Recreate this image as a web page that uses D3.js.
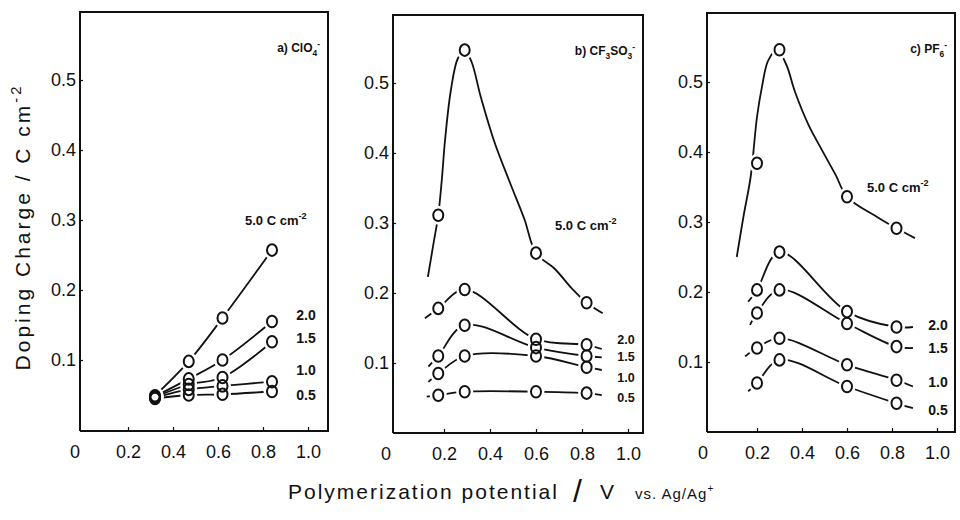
<!DOCTYPE html>
<html>
<head>
<meta charset="utf-8">
<script src="https://cdn.jsdelivr.net/npm/d3@7"></script>
<style>
  body { margin: 0; background: #fff; }
  svg { display: block; }
  text { font-family: "Liberation Sans", Arial, sans-serif; fill: #111; }
</style>
</head>
<body>
<svg id="chart" width="960" height="520"></svg>
<script>
// Doping charge (C cm^-2) against polymerization potential (V vs. Ag/Ag+)
// for films grown with five polymerization charges in three electrolytes.

const chargeLabels = ["5.0", "2.0", "1.5", "1.0", "0.5"];
const yTicks = [0.1, 0.2, 0.3, 0.4, 0.5];
const xTicks = [0.2, 0.4, 0.6, 0.8, 1.0];

// a) ClO4-
const potentialA = [0.32, 0.47, 0.62, 0.84];
const a50 = [0.049, 0.098, 0.160, 0.257];
const a20 = [0.048, 0.073, 0.100, 0.155];
const a15 = [0.047, 0.065, 0.075, 0.126];
const a10 = [0.046, 0.058, 0.063, 0.069];
const a05 = [0.045, 0.050, 0.051, 0.055];

// b) CF3SO3-
const potentialB = [0.175, 0.29, 0.60, 0.82];
const b50 = [0.311, 0.547, 0.257, 0.186];
const b20 = [0.178, 0.205, 0.134, 0.126];
const b15 = [0.110, 0.154, 0.122, 0.110];
const b10 = [0.085, 0.110, 0.110, 0.094];
const b05 = [0.054, 0.059, 0.059, 0.057];
// hand-drawn guide curve of the 5.0 C cm-2 film, [potential, charge]
const b50Trace = [[0.13, 0.223], [0.155, 0.272], [0.175, 0.311], [0.19, 0.36], [0.205, 0.42],
  [0.23, 0.49], [0.26, 0.535], [0.29, 0.547], [0.32, 0.53], [0.36, 0.48], [0.42, 0.415],
  [0.49, 0.355], [0.55, 0.305], [0.60, 0.257], [0.68, 0.235], [0.76, 0.205], [0.82, 0.186], [0.89, 0.171]];
// guide-curve ends of the other films (2.0, 1.5, 1.0, 0.5)
const bStart = [[0.117, 0.164], [0.132, 0.095], [0.132, 0.073], [0.125, 0.052]];
const bEnd = [[0.886, 0.120], [0.886, 0.108], [0.886, 0.090], [0.886, 0.054]];

// c) PF6-
const potentialC = [0.20, 0.30, 0.60, 0.82];
const c50 = [0.384, 0.546, 0.336, 0.291];
const c20 = [0.203, 0.257, 0.172, 0.150];
const c15 = [0.170, 0.203, 0.155, 0.122];
const c10 = [0.120, 0.134, 0.096, 0.074];
const c05 = [0.070, 0.103, 0.065, 0.041];
const c50Trace = [[0.11, 0.25], [0.14, 0.308], [0.172, 0.365], [0.20, 0.45], [0.222, 0.493],
  [0.25, 0.531], [0.29, 0.546], [0.33, 0.525], [0.37, 0.485], [0.43, 0.438], [0.49, 0.402],
  [0.55, 0.367], [0.60, 0.336], [0.73, 0.308], [0.82, 0.291], [0.902, 0.277]];
const cStart = [[0.161, 0.186], [0.169, 0.153], [0.147, 0.108], [0.161, 0.058]];
const cEnd = [[0.893, 0.150], [0.893, 0.120], [0.893, 0.065], [0.893, 0.034]];

const panels = [
  {
    title: [["a) ClO", 0], ["4", 1], ["-", -1]],
    potentials: potentialA, series: [a50, a20, a15, a10, a05],
    trace: null, start: null, end: null,
    frame: { l: 80, r: 328, t: 12, b: 431 }, xr: [83, 308], yr: [430, 80],
    labelX: 306, labelV: [0.164, 0.131, 0.086, 0.050], labelSize: 14,
    mainLabel: { x: 245, v: 0.293 }, zeroX: 75
  },
  {
    title: [["b) CF", 0], ["3", 1], ["SO", 0], ["3", 1], ["-", -1]],
    potentials: potentialB, series: [b50, b20, b15, b10, b05],
    trace: b50Trace, start: bStart, end: bEnd,
    frame: { l: 393, r: 643, t: 15, b: 433 }, xr: [398, 628], yr: [433, 83],
    labelX: 626, labelV: [0.134, 0.109, 0.079, 0.051], labelSize: 12.5,
    mainLabel: { x: 555, v: 0.290 }, zeroX: 386
  },
  {
    title: [["c) PF", 0], ["6", 1], ["-", -1]],
    potentials: potentialC, series: [c50, c20, c15, c10, c05],
    trace: c50Trace, start: cStart, end: cEnd,
    frame: { l: 707, r: 955, t: 13, b: 432 }, xr: [712, 937], yr: [432, 82],
    labelX: 938, labelV: [0.153, 0.120, 0.071, 0.031], labelSize: 14,
    mainLabel: { x: 867, v: 0.343 }, zeroX: 703
  }
];

const svg = d3.select("#chart");
const ink = "#111";

function addScript(textSel, parts, size) {
  // parts: [text, shift] with shift 0 normal, 1 subscript, -1 superscript
  let prev = 0;
  parts.forEach(([t, s]) => {
    const off = s === 1 ? size * 0.3 : s === -1 ? -size * 0.45 : 0;
    textSel.append("tspan")
      .attr("dy", off - prev)
      .attr("font-size", s === 0 ? size : size * 0.7)
      .text(t);
    prev = off;
  });
}

panels.forEach(p => {
  const x = d3.scaleLinear().domain([0, 1]).range(p.xr);
  const y = d3.scaleLinear().domain([0, 0.5]).range(p.yr);
  const g = svg.append("g");

  // frame
  const f = p.frame;
  g.append("path")
    .attr("d", `M${f.l},${f.b}V${f.t}H${f.r}V${f.b}H${f.l}`)
    .attr("fill", "none").attr("stroke", ink).attr("stroke-width", 2);

  // y axis: inward ticks, labels on the outside
  const yAxis = d3.axisLeft(y).tickValues(yTicks).tickFormat(d3.format(".1f"))
    .tickSizeInner(-3).tickSizeOuter(0).tickPadding(4);
  const ya = g.append("g").attr("transform", `translate(${f.l},0)`).call(yAxis);
  ya.select(".domain").remove();
  ya.selectAll("line").attr("stroke", ink).attr("stroke-width", 1.2);
  ya.selectAll("text").attr("font-size", 18).attr("font-family", "Liberation Sans, Arial, sans-serif").attr("fill", ink);

  // x axis
  const xAxis = d3.axisBottom(x).tickValues(xTicks).tickFormat(d3.format(".1f"))
    .tickSizeInner(-4).tickSizeOuter(0).tickPadding(14);
  const xa = g.append("g").attr("transform", `translate(0,${f.b})`).call(xAxis);
  xa.select(".domain").remove();
  xa.selectAll("line").attr("stroke", ink).attr("stroke-width", 1.2);
  xa.selectAll("text").attr("font-size", 18).attr("font-family", "Liberation Sans, Arial, sans-serif").attr("fill", ink);
  g.append("text").attr("x", p.zeroX).attr("y", f.b + 27)
    .attr("text-anchor", "middle").attr("font-size", 18).text("0");

  // guide curves
  const line = d3.line().x(d => x(d[0])).y(d => y(d[1]))
    .curve(d3.curveCatmullRom.alpha(0.5));
  p.series.forEach((vals, i) => {
    let pts = p.potentials.map((pv, j) => [pv, vals[j]]);
    if (i === 0 && p.trace) pts = p.trace;
    else if (i > 0 && p.start) pts = [p.start[i - 1], ...pts, p.end[i - 1]];
    g.append("path").attr("d", line(pts))
      .attr("fill", "none").attr("stroke", ink).attr("stroke-width", 1.8);
  });

  // markers: white knock-outs first, then open circles
  const marks = [];
  p.series.forEach((vals, i) => p.potentials.forEach((pv, j) => marks.push([pv, vals[j]])));
  g.selectAll(".ko").data(marks).join("ellipse")
    .attr("cx", d => x(d[0])).attr("cy", d => y(d[1]))
    .attr("rx", 8.5).attr("ry", 9.5).attr("fill", "#fff");
  g.selectAll(".mk").data(marks).join("ellipse")
    .attr("cx", d => x(d[0])).attr("cy", d => y(d[1]))
    .attr("rx", 5).attr("ry", 5.8).attr("fill", "none")
    .attr("stroke", ink).attr("stroke-width", 2);

  // series labels
  chargeLabels.slice(1).forEach((lab, i) => {
    g.append("text").attr("x", p.labelX).attr("y", y(p.labelV[i]))
      .attr("dy", "0.35em").attr("text-anchor", "middle")
      .attr("font-size", p.labelSize).attr("font-weight", "bold").text(lab);
  });
  const ml = g.append("text").attr("x", p.mainLabel.x).attr("y", y(p.mainLabel.v))
    .attr("dy", "0.35em").attr("font-weight", "bold");
  addScript(ml, [[chargeLabels[0] + " C cm", 0], ["-2", -1]], 13);

  // panel title
  const tt = g.append("text").attr("x", f.r - 8).attr("y", f.t + 40)
    .attr("text-anchor", "end").attr("font-weight", "bold");
  addScript(tt, p.title, 12);
});

// axis titles
const yt = svg.append("text")
  .attr("transform", "translate(30,227) rotate(-90)")
  .attr("text-anchor", "middle").attr("letter-spacing", 3);
addScript(yt, [["Doping Charge / C cm", 0], ["-2", -1]], 21);

const xt = svg.append("g");
xt.append("text").attr("x", 288).attr("y", 499).attr("font-size", 21)
  .attr("letter-spacing", 2).text("Polymerization potential");
xt.append("text").attr("x", 573).attr("y", 502).attr("font-size", 32).text("/");
xt.append("text").attr("x", 600).attr("y", 499).attr("font-size", 21).text("V");
const vs = xt.append("text").attr("x", 635).attr("y", 499).attr("letter-spacing", 1);
vs.append("tspan").attr("font-size", 15).text("vs. Ag/Ag");
vs.append("tspan").attr("font-size", 10).attr("dy", -7).text("+");
</script>
</body>
</html>
